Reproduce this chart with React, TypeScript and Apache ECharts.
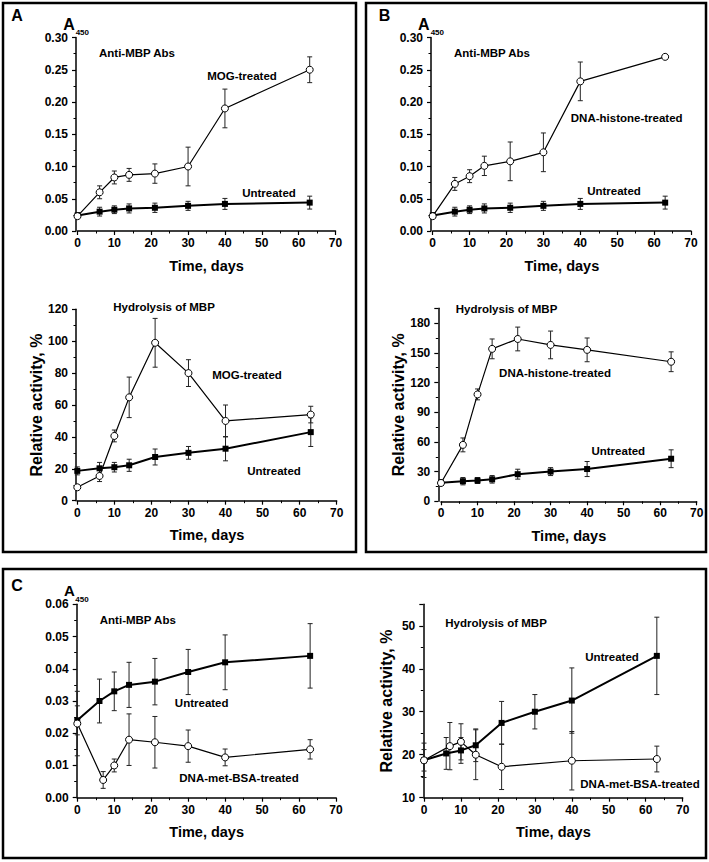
import React, { useEffect, useRef } from "react";
import * as echarts from "echarts";

// ---------- data ----------
const days = [0, 6, 10, 14, 21, 30, 40, 63];
const daysMetBSA = [0, 7, 10, 14, 21, 30, 40, 63];
const daysMetBSAAct = [0, 7, 10, 14, 21, 40, 63];

// Anti-MBP antibodies (A450)
const untreatedAbs = [0.024, 0.030, 0.033, 0.035, 0.036, 0.039, 0.042, 0.044];
const untreatedAbsErr = [0.0045, 0.0068, 0.006, 0.007, 0.0072, 0.007, 0.0085, 0.010];
const mogAbs = [0.023, 0.060, 0.083, 0.087, 0.089, 0.100, 0.190, 0.250];
const mogAbsErr = [0, 0.010, 0.010, 0.010, 0.015, 0.030, 0.030, 0.020];
const histoneAbs = [0.023, 0.073, 0.085, 0.101, 0.108, 0.122, 0.232, 0.270];
const histoneAbsErr = [0, 0.010, 0.010, 0.015, 0.030, 0.030, 0.030, 0];
const metBSAAbs = [0.023, 0.0055, 0.010, 0.018, 0.0172, 0.016, 0.0125, 0.015];
const metBSAAbsErr = [0.010, 0.0026, 0.002, 0.008, 0.008, 0.005, 0.0026, 0.003];

// Hydrolysis of MBP (relative activity, %)
const untreatedAct = [18.7, 20.3, 21, 22.2, 27.4, 30, 32.6, 43];
const untreatedActErr = [2.5, 3.7, 3, 3.8, 5, 4, 7.6, 9];
const mogAct = [8.4, 15.5, 40.6, 64.8, 99, 80, 50, 54];
const mogActErr = [1, 3.5, 3.7, 12.7, 15.3, 8.4, 10, 5.2];
const histoneAct = [18.5, 57, 108, 154, 164, 158, 153, 141];
const histoneActErr = [1, 7, 5.5, 10, 12, 14, 12, 10];
const metBSAAct = [18.7, 22, 23, 20, 17.2, 18.6, 19];
const metBSAActErr = [4, 5.5, 4.2, 5.8, 5.3, 6.8, 3];

const FONT = 'Arial, "Liberation Sans", Helvetica, sans-serif';

const zip = (xs: number[], ys: number[]) => xs.map((x, i) => [x, ys[i]]);
const zip3 = (xs: number[], ys: number[], es: number[]) => xs.map((x, i) => [x, ys[i], es[i]]);

function errRender(params: any, api: any) {
  const x = api.value(0);
  const y = api.value(1);
  const e = api.value(2);
  if (!e) return null;
  const hi = api.coord([x, y + e]);
  const lo = api.coord([x, y - e]);
  const w = 2.5;
  const st = { stroke: "#222", lineWidth: 1 };
  return {
    type: "group",
    children: [
      { type: "line", shape: { x1: hi[0], y1: hi[1], x2: lo[0], y2: lo[1] }, style: st },
      { type: "line", shape: { x1: hi[0] - w, y1: hi[1], x2: hi[0] + w, y2: hi[1] }, style: st },
      { type: "line", shape: { x1: lo[0] - w, y1: lo[1], x2: lo[0] + w, y2: lo[1] }, style: st },
    ],
  };
}

const grids = [
  { left: 77.5, top: 37.5, width: 258, height: 193.5 },
  { left: 77.3, top: 309.3, width: 259.4, height: 191.4 },
  { left: 432.7, top: 37.5, width: 258.3, height: 193.5 },
  { left: 441, top: 308.3, width: 255.7, height: 193 },
  { left: 77.3, top: 604.3, width: 258.7, height: 193.4 },
  { left: 424, top: 604.3, width: 258.7, height: 193.4 },
];

const axisLineStyle = { color: "#000", width: 1.5 };
const labelStyle = { color: "#000", fontWeight: "bold" as const, fontSize: 12, fontFamily: FONT };
const xNameStyle = { color: "#000", fontWeight: "bold" as const, fontSize: 14.5, fontFamily: FONT };
const yNameStyle = { color: "#000", fontWeight: "bold" as const, fontSize: 16, fontFamily: FONT };

function mkX(gridIndex: number) {
  return {
    type: "value",
    gridIndex,
    min: 0,
    max: 70,
    interval: 10,
    axisLine: { show: true, onZero: false, lineStyle: axisLineStyle },
    axisTick: { show: true, inside: false, length: 4, lineStyle: { color: "#000", width: 1.2 } },
    minorTick: { show: true, splitNumber: 2, length: 2.5, lineStyle: { color: "#000", width: 1 } },
    splitLine: { show: false },
    minorSplitLine: { show: false },
    axisLabel: { ...labelStyle, margin: 6 },
    name: "Time, days",
    nameLocation: "middle",
    nameGap: 27,
    nameTextStyle: xNameStyle,
  };
}

function mkY(gridIndex: number, min: number, max: number, interval: number, dec: number, offset: number, name?: string, nameGap?: number) {
  const onGrid = Math.abs(max / interval - Math.round(max / interval)) < 1e-9;
  return {
    type: "value",
    gridIndex,
    min,
    max,
    interval,
    offset,
    axisLine: { show: true, onZero: false, lineStyle: axisLineStyle },
    axisTick: { show: true, inside: false, length: 4, lineStyle: { color: "#000", width: 1.2 } },
    minorTick: { show: true, splitNumber: 2, length: 2.5, lineStyle: { color: "#000", width: 1 } },
    splitLine: { show: false },
    minorSplitLine: { show: false },
    axisLabel: {
      ...labelStyle,
      margin: 8,
      showMaxLabel: onGrid,
      formatter: (v: number) => Number(v).toFixed(dec),
    },
    name: name || "",
    nameLocation: "middle",
    nameGap: nameGap || 30,
    nameTextStyle: yNameStyle,
  };
}

function treatedLine(i: number, xs: number[], ys: number[]) {
  return {
    type: "line",
    xAxisIndex: i,
    yAxisIndex: i,
    data: zip(xs, ys),
    symbol: "circle",
    symbolSize: 7,
    z: 4,
    itemStyle: { color: "#fff", borderColor: "#000", borderWidth: 1 },
    lineStyle: { color: "#000", width: 1.2 },
  };
}
function untreatedLine(i: number, xs: number[], ys: number[]) {
  return {
    type: "line",
    xAxisIndex: i,
    yAxisIndex: i,
    data: zip(xs, ys),
    symbol: "rect",
    symbolSize: 6,
    z: 3,
    itemStyle: { color: "#000", borderColor: "#000", borderWidth: 0 },
    lineStyle: { color: "#000", width: 2 },
  };
}
function errSeries(i: number, xs: number[], ys: number[], es: number[]) {
  return {
    type: "custom",
    xAxisIndex: i,
    yAxisIndex: i,
    data: zip3(xs, ys, es),
    renderItem: errRender,
    z: 2,
    silent: true,
  };
}

function txt(x: number, y: number, text: string, fontSize = 11.5, rotation = 0) {
  return {
    type: "text",
    x,
    y,
    rotation,
    z: 10,
    style: {
      text,
      fill: "#000",
      fontSize,
      fontWeight: "bold",
      fontFamily: FONT,
      align: "center",
      verticalAlign: "middle",
    },
  };
}
function frame(x: number, y: number, w: number, h: number) {
  return {
    type: "rect",
    shape: { x, y, width: w, height: h },
    style: { fill: "none", stroke: "#000", lineWidth: 2.5 },
    z: 10,
  };
}

export default function App() {
  const ref = useRef<HTMLDivElement>(null);
  useEffect(() => {
    if (!ref.current) return;
    const chart = echarts.init(ref.current, undefined, { renderer: "svg" });
    const option: any = {
      animation: false,
      backgroundColor: "#fff",
      grid: grids.map((g) => ({ ...g, containLabel: false })),
      xAxis: [0, 1, 2, 3, 4, 5].map((i) => mkX(i)),
      yAxis: [
        mkY(0, 0, 0.3, 0.05, 2, 1.5),
        mkY(1, 0, 120, 20, 0, 1.3, "Relative activity, %", 30),
        mkY(2, 0, 0.3, 0.05, 2, 1.7),
        mkY(3, 0, 195, 30, 0, 2.7, "Relative activity, %", 26),
        mkY(4, 0, 0.06, 0.01, 2, 0.6),
        mkY(5, 10, 55, 10, 0, 0.7, "Relative activity, %", 28.5),
      ],
      series: [
        // A top
        errSeries(0, days, untreatedAbs, untreatedAbsErr),
        errSeries(0, days, mogAbs, mogAbsErr),
        untreatedLine(0, days, untreatedAbs),
        treatedLine(0, days, mogAbs),
        // A bottom
        errSeries(1, days, untreatedAct, untreatedActErr),
        errSeries(1, days, mogAct, mogActErr),
        untreatedLine(1, days, untreatedAct),
        treatedLine(1, days, mogAct),
        // B top
        errSeries(2, days, untreatedAbs, untreatedAbsErr),
        errSeries(2, days, histoneAbs, histoneAbsErr),
        untreatedLine(2, days, untreatedAbs),
        treatedLine(2, days, histoneAbs),
        // B bottom
        errSeries(3, days, untreatedAct, untreatedActErr),
        errSeries(3, days, histoneAct, histoneActErr),
        untreatedLine(3, days, untreatedAct),
        treatedLine(3, days, histoneAct),
        // C left
        errSeries(4, days, untreatedAbs, untreatedAbsErr),
        errSeries(4, daysMetBSA, metBSAAbs, metBSAAbsErr),
        untreatedLine(4, days, untreatedAbs),
        treatedLine(4, daysMetBSA, metBSAAbs),
        // C right
        errSeries(5, days, untreatedAct, untreatedActErr),
        errSeries(5, daysMetBSAAct, metBSAAct, metBSAActErr),
        untreatedLine(5, days, untreatedAct),
        treatedLine(5, daysMetBSAAct, metBSAAct),
      ],
      graphic: [
        frame(3, 3, 353, 549),
        frame(366, 3, 340, 549),
        frame(3, 569, 703, 289),
        // panel letters
        txt(17, 15, "A", 16),
        txt(384.5, 15, "B", 16),
        txt(17, 585, "C", 16),
        // A450 labels
        txt(69, 24.5, "A", 16),
        txt(82.3, 32.5, "450", 8),
        txt(423.7, 24.5, "A", 16),
        txt(437.3, 32.5, "450", 8),
        txt(69.5, 590, "A", 15),
        txt(82, 599, "450", 8),
        // A top
        txt(137, 53, "Anti-MBP Abs"),
        txt(242, 76, "MOG-treated"),
        txt(269, 193, "Untreated"),
        // A bottom
        txt(164, 306.7, "Hydrolysis of MBP"),
        txt(247, 375, "MOG-treated"),
        txt(274, 471, "Untreated"),
        // B top
        txt(492, 53, "Anti-MBP Abs"),
        txt(626.7, 118.3, "DNA-histone-treated"),
        txt(614, 190.7, "Untreated"),
        // B bottom
        txt(506.5, 309.3, "Hydrolysis of MBP"),
        txt(555, 372.7, "DNA-histone-treated"),
        txt(618.3, 451, "Untreated"),
        // C left
        txt(137.8, 620, "Anti-MBP Abs"),
        txt(201.7, 702.7, "Untreated"),
        txt(239, 778.3, "DNA-met-BSA-treated"),
        // C right
        txt(496, 623.3, "Hydrolysis of MBP"),
        txt(612, 656.7, "Untreated"),
        txt(640, 784, "DNA-met-BSA-treated"),
      ],
    };
    chart.setOption(option);
    return () => chart.dispose();
  }, []);
  return (
    <div
      ref={ref}
      style={{ position: "fixed", left: 0, top: 0, width: 709, height: 862, background: "#fff" }}
    />
  );
}
